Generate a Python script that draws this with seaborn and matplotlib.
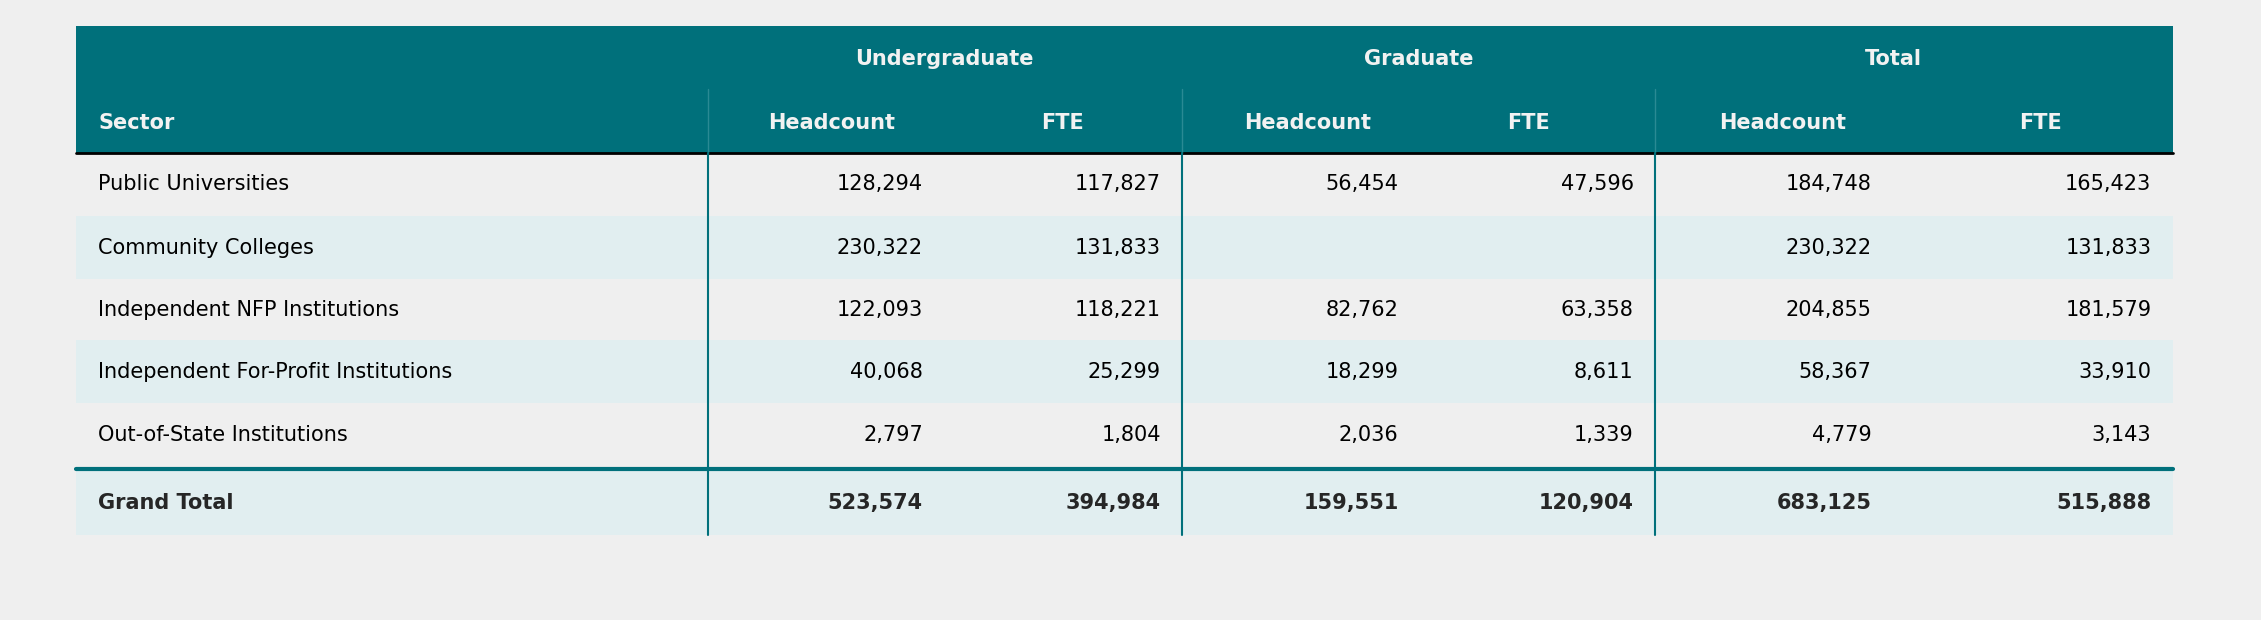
import matplotlib.pyplot as plt
import seaborn as sns
from matplotlib.patches import Rectangle

sectors = ["Public Universities", "Community Colleges", "Independent NFP Institutions",
           "Independent For-Profit Institutions", "Out-of-State Institutions"]
ug_head = [128294, 230322, 122093, 40068, 2797]
ug_fte = [117827, 131833, 118221, 25299, 1804]
gr_head = [56454, None, 82762, 18299, 2036]
gr_fte = [47596, None, 63358, 8611, 1339]
tot_head = [184748, 230322, 204855, 58367, 4779]
tot_fte = [165423, 131833, 181579, 33910, 3143]
grand = [523574, 394984, 159551, 120904, 683125, 515888]
groups = ["Undergraduate", "Graduate", "Total"]
subheads = ["Headcount", "FTE"] * 3

sns.set_style("white")
BG = "#efefef"
TEAL = "#00707b"
LIGHT = "#e1eef0"
FONT = "DejaVu Sans"

fig = plt.figure(figsize=(22.61, 6.2), dpi=100, facecolor=BG)
ax = fig.add_axes([0, 0, 1, 1])
ax.set_xlim(0, 1568)
ax.set_ylim(430, 0)
ax.axis("off")
ax.set_facecolor(BG)

L, R = 53, 1507
ax.add_patch(Rectangle((L, 18), R - L, 88, color=TEAL, lw=0))
ax.plot([L, R], [106, 106], color="black", lw=2)

row_tops = [106, 150, 193, 236, 280]
row_h = 43.5
for i, top in enumerate(row_tops):
    if i % 2 == 1:
        ax.add_patch(Rectangle((L, top), R - L, row_h, color=LIGHT, lw=0))
ax.add_patch(Rectangle((L, 325), R - L, 46, color=LIGHT, lw=0))
ax.plot([L, R], [325, 325], color=TEAL, lw=3)

# vertical dividers
for x in [491, 820, 1148]:
    ax.plot([x, x], [62, 106], color="#2a8a94", lw=1)
    ax.plot([x, x], [106, 371], color=TEAL, lw=1.5)

col_right = [640, 805, 970, 1133, 1298, 1492]
group_centers = [655, 984, 1313]
tsize = 15
for g, cx in zip(groups, group_centers):
    ax.text(cx, 41, g, color="#f2f2f2", fontsize=tsize, fontweight="bold",
            ha="center", va="center", family=FONT)
ax.text(68, 85, "Sector", color="#f2f2f2", fontsize=tsize, fontweight="bold",
        ha="left", va="center", family=FONT)
sub_centers = [577, 737, 907, 1060, 1236, 1415]
for s, cx in zip(subheads, sub_centers):
    ax.text(cx, 85, s, color="#f2f2f2", fontsize=tsize, fontweight="bold",
            ha="center", va="center", family=FONT)

cols = [ug_head, ug_fte, gr_head, gr_fte, tot_head, tot_fte]
for i, (name, top) in enumerate(zip(sectors, row_tops)):
    y = top + row_h / 2
    ax.text(68, y, name, fontsize=tsize, ha="left", va="center", family=FONT, color="black")
    for c, xr in zip(cols, col_right):
        v = c[i]
        if v is not None:
            ax.text(xr, y, f"{v:,}", fontsize=tsize, ha="right", va="center",
                    family=FONT, color="black")

yg = 349
ax.text(68, yg, "Grand Total", fontsize=tsize, fontweight="bold", ha="left",
        va="center", family=FONT)
for v, xr in zip(grand, col_right):
    ax.text(xr, yg, f"{v:,}", fontsize=tsize, fontweight="bold", ha="right",
            va="center", family=FONT)

fig.savefig("out.png", dpi=100, facecolor=BG)
